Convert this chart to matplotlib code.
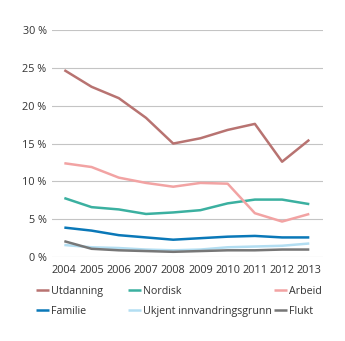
import matplotlib
matplotlib.use('Agg')
import matplotlib.pyplot as plt

plt.rcParams['font.family'] = ['Open Sans', 'DejaVu Sans']

years = list(range(2004, 2014))
series = ['Utdanning', 'Nordisk', 'Arbeid', 'Familie', 'Ukjent innvandringsgrunn', 'Flukt']
utdanning = [24.7, 22.5, 21.0, 18.4, 15.0, 15.7, 16.8, 17.6, 12.6, 15.5]
nordisk = [7.8, 6.6, 6.3, 5.7, 5.9, 6.2, 7.1, 7.6, 7.6, 7.0]
arbeid = [12.4, 11.9, 10.5, 9.8, 9.3, 9.8, 9.7, 5.8, 4.7, 5.7]
familie = [3.9, 3.5, 2.9, 2.6, 2.3, 2.5, 2.7, 2.8, 2.6, 2.6]
ukjent = [1.6, 1.3, 1.2, 1.0, 0.9, 1.0, 1.3, 1.4, 1.5, 1.8]
flukt = [2.1, 1.1, 0.9, 0.8, 0.7, 0.8, 0.9, 0.9, 1.0, 1.0]
colors = ['#b87371', '#3bb0a0', '#f2a3a3', '#0a78b8', '#b3def2', '#777777']
yticks = [0, 5, 10, 15, 20, 25, 30]

fig = plt.figure(figsize=(3.45, 3.41), dpi=100)
ax = fig.add_axes([0.151, 0.246, 0.785, 0.666])

data = [utdanning, nordisk, arbeid, familie, ukjent, flukt]
lines = []
for vals, name, c in zip(data, series, colors):
    ln, = ax.plot(years, vals, color=c, lw=1.8, label=name, solid_capstyle='butt')
    lines.append(ln)

ax.set_xlim(2003.55, 2013.5)
ax.set_ylim(0, 30)
ax.set_yticks(yticks)
ax.set_yticklabels([f'{v} %' for v in yticks])
ax.set_xticks(years)
ax.set_xticklabels([str(y) for y in years])
ax.grid(axis='y', color='#c4c4c4', lw=0.8)
ax.set_axisbelow(True)
for s in ax.spines.values():
    s.set_visible(False)
ax.tick_params(length=0, labelsize=7.8, colors='#333333', pad=4)
ax.tick_params(axis='x', pad=6)

# legend: row-major, 3 columns placed like the reference
col_x = [0.105, 0.372, 0.795]
for i, x0 in enumerate(col_x):
    hs = [lines[i], lines[i + 3]]
    leg = fig.legend(hs, [h.get_label() for h in hs], loc='upper left',
                     bbox_to_anchor=(x0, 0.162), frameon=False, fontsize=7.7,
                     handlelength=1.2, handletextpad=0.15, labelspacing=0.85,
                     borderaxespad=0, borderpad=0)
    for t in leg.get_texts():
        t.set_color('#333333')

fig.savefig('out.png', dpi=100)
